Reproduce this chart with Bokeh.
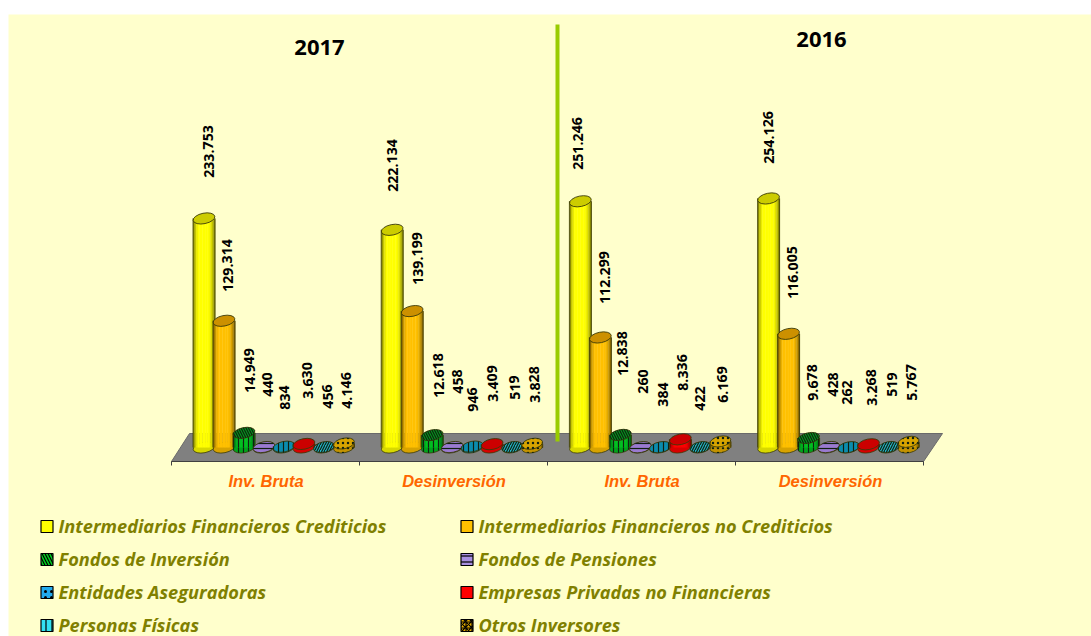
from bokeh.plotting import figure
from bokeh.models import Range1d
from bokeh.embed import file_html
from bokeh.resources import INLINE
from bokeh.core.properties import value

categories = ["Inv. Bruta", "Desinversión", "Inv. Bruta", "Desinversión"]
years = ["2017", "2016"]
series_names = ["Intermediarios Financieros Crediticios", "Intermediarios Financieros no Crediticios",
                "Fondos de Inversión", "Fondos de Pensiones", "Entidades Aseguradoras",
                "Empresas Privadas no Financieras", "Personas Físicas", "Otros Inversores"]
crediticios = [233753, 222134, 251246, 254126]
no_crediticios = [129314, 139199, 112299, 116005]
fondos_inversion = [14949, 12618, 12838, 9678]
fondos_pensiones = [440, 458, 260, 428]
aseguradoras = [834, 946, 384, 262]
empresas = [3630, 3409, 8336, 3268]
personas = [456, 519, 422, 519]
otros = [4146, 3828, 6169, 5767]
all_series = [crediticios, no_crediticios, fondos_inversion, fondos_pensiones, aseguradoras, empresas, personas, otros]

# layout: label centres in page pixels, per series and group
label_x = [[208, 392, 577, 768], [227, 417, 604, 792], [249, 438, 622, 812], [267, 457, 642, 832],
           [284, 472, 662, 846], [307, 492, 682, 871], [327, 514, 699, 891], [346, 534, 722, 911]]
label_y = [[151, 165, 143, 137], [265, 258, 277, 272], [370, 375, 353, 382], [384, 381, 381, 384],
           [397, 399, 394, 392], [380, 383, 372, 387], [396, 387, 398, 384], [390, 384, 384, 382]]

side = ["#ffff00", "#ffc000", "#00c020", "#8f73c8", "#0a93b4", "#ff0000", "#20bcc8", "#e6ac00"]
top = ["#cccc00", "#cc9000", "#009a1a", "#9a7ad0", "#0a8cae", "#cc0000", "#20b0c0", "#d8a400"]
hatch = [None, None, "left_diagonal_line", "horizontal_line", "vertical_line", None, "right_diagonal_line", "dot"]
body_hatch = [None, None, "vertical_line", "horizontal_line", "vertical_line", None, "right_diagonal_line", "dot"]
legend_fill = ["#ffff00", "#ffc000", "#00d020", "#a890e0", "#22aaee", "#ff0000", "#33e0f0", "#e6ac00"]
legend_hatch = [None, None, "left_diagonal_line", "horizontal_line", "dot", None, "vertical_line", "criss_cross"]
shade = [0.55, 0.78, 0.92, 1, 1, 1, 1, 1, 1, 1, 0.97, 0.88, 0.75, 0.55]

PX = 1000 / 0.98  # values per pixel
B = 447
W, H = 1091, 636


def vy(py):
    return (B - py) * PX


def scale(c, f):
    r, g, b = int(c[1:3], 16), int(c[3:5], 16), int(c[5:7], 16)
    return "#%02x%02x%02x" % (int(r * f), int(g * f), int(b * f))


p = figure(width=W, height=H, output_backend="svg", toolbar_location=None,
           x_range=Range1d(0, W), y_range=Range1d(vy(H), vy(0)),
           min_border=0, outline_line_color=None, background_fill_color="#ffffff",
           border_fill_color="#ffffff")
p.xaxis.visible = False
p.yaxis.visible = False
p.grid.visible = False

# sheet background
p.quad(left=[8], right=[W], top=[vy(14)], bottom=[vy(H)], fill_color="#ffffcc", line_color=None)

# floor
p.patch(x=[171, 189, 942, 923], y=[vy(461), vy(433), vy(433), vy(461)], fill_color="#808080",
        line_color="#6a6a6a", line_width=1)
p.line(x=[171, 923], y=[vy(461), vy(461)], line_color="#404040", line_width=1)
tick_x = [171 + 188 * i for i in range(5)]
p.segment(x0=tick_x, x1=tick_x, y0=[vy(461)] * 5, y1=[vy(465)] * 5, line_color="#404040", line_width=1)

# divider (behind bars)
p.line(x=[557, 557], y=[vy(24), vy(441)], line_color="#99cc00", line_width=4)

OUT = "#3a3a08"
for g in range(4):
    for s, vals in enumerate(all_series):
        v = vals[g]
        cx = 203.5 + 188.2 * g + 20 * s
        w = 22 if s < 6 else 21
        eh = 10.5
        kw = dict(width=w, height=eh, angle=0.2, width_units="screen", height_units="screen")
        # bottom cap
        p.ellipse(x=[cx], y=[0], fill_color=scale(side[s], 0.85), line_color=OUT, line_width=0.8, **kw)
        if body_hatch[s]:
            p.ellipse(x=[cx], y=[0], fill_color=None, line_color=None, hatch_pattern=body_hatch[s],
                      hatch_color="#102010", hatch_scale=5, hatch_weight=1.2, **kw)
        # shaded body
        n = len(shade)
        sw = w / n
        lefts = [cx - w / 2 + i * sw for i in range(n)]
        p.quad(left=lefts, right=[l + sw + 0.3 for l in lefts], bottom=[0] * n, top=[v] * n,
               fill_color=[scale(side[s], f) for f in shade], line_color=None)
        if body_hatch[s]:
            p.quad(left=[cx - w / 2], right=[cx + w / 2], bottom=[0], top=[v], fill_color=None, line_color=None,
                   hatch_pattern=body_hatch[s], hatch_color="#102010", hatch_scale=5, hatch_weight=1.2)
        p.segment(x0=[cx - w / 2, cx + w / 2], x1=[cx - w / 2, cx + w / 2], y0=[0, 0], y1=[v, v],
                  line_color=OUT, line_width=0.8)
        # top cap
        p.ellipse(x=[cx], y=[v], fill_color=top[s], line_color=OUT, line_width=0.9, **kw)
        if hatch[s]:
            p.ellipse(x=[cx], y=[v], fill_color=None, line_color=None, hatch_pattern=hatch[s],
                      hatch_color="#102010", hatch_scale=5, hatch_weight=1.2, **kw)

# data labels
for s, vals in enumerate(all_series):
    texts = [f"{v:,}".replace(",", ".") for v in vals]
    p.text(x=label_x[s], y=[vy(y) for y in label_y[s]], text=texts, angle=1.5708,
           text_align="center", text_baseline="middle", text_font=value("Open Sans"),
           text_font_style="bold", text_font_size="14.2px", text_color="#000000")

# category labels
p.text(x=[265.5, 453.5, 641.5, 830], y=[vy(480)] * 4, text=categories, text_align="center", text_baseline="middle",
       text_font=value("Liberation Sans"), text_font_style="bold italic", text_font_size="16.5px",
       text_color="#ff6600")

# titles
p.text(x=[319, 821], y=[vy(47), vy(39)], text=years, text_align="center", text_baseline="middle",
       text_font=value("Open Sans"), text_font_style="bold", text_font_size="22px", text_color="#000000")

# legend
row_y = [526, 559, 592, 625]
for s, name in enumerate(series_names):
    col, row = s % 2, s // 2
    mx = 46.5 + 420 * col
    p.rect(x=[mx], y=[vy(row_y[row])], width=12, height=12, width_units="screen", height_units="screen",
           fill_color=legend_fill[s], line_color="#000000", line_width=1.2,
           **({"hatch_pattern": legend_hatch[s], "hatch_color": "#000000", "hatch_scale": 6, "hatch_weight": 1.2}
              if legend_hatch[s] else {}))
    p.text(x=[58 + 420 * col], y=[vy(row_y[row] - 0.5)], text=[name], text_align="left", text_baseline="middle",
           text_font=value("Open Sans"), text_font_style="bold italic", text_font_size="18.2px", text_color="#808000")

open("out.html", "w").write(file_html(p, INLINE))
